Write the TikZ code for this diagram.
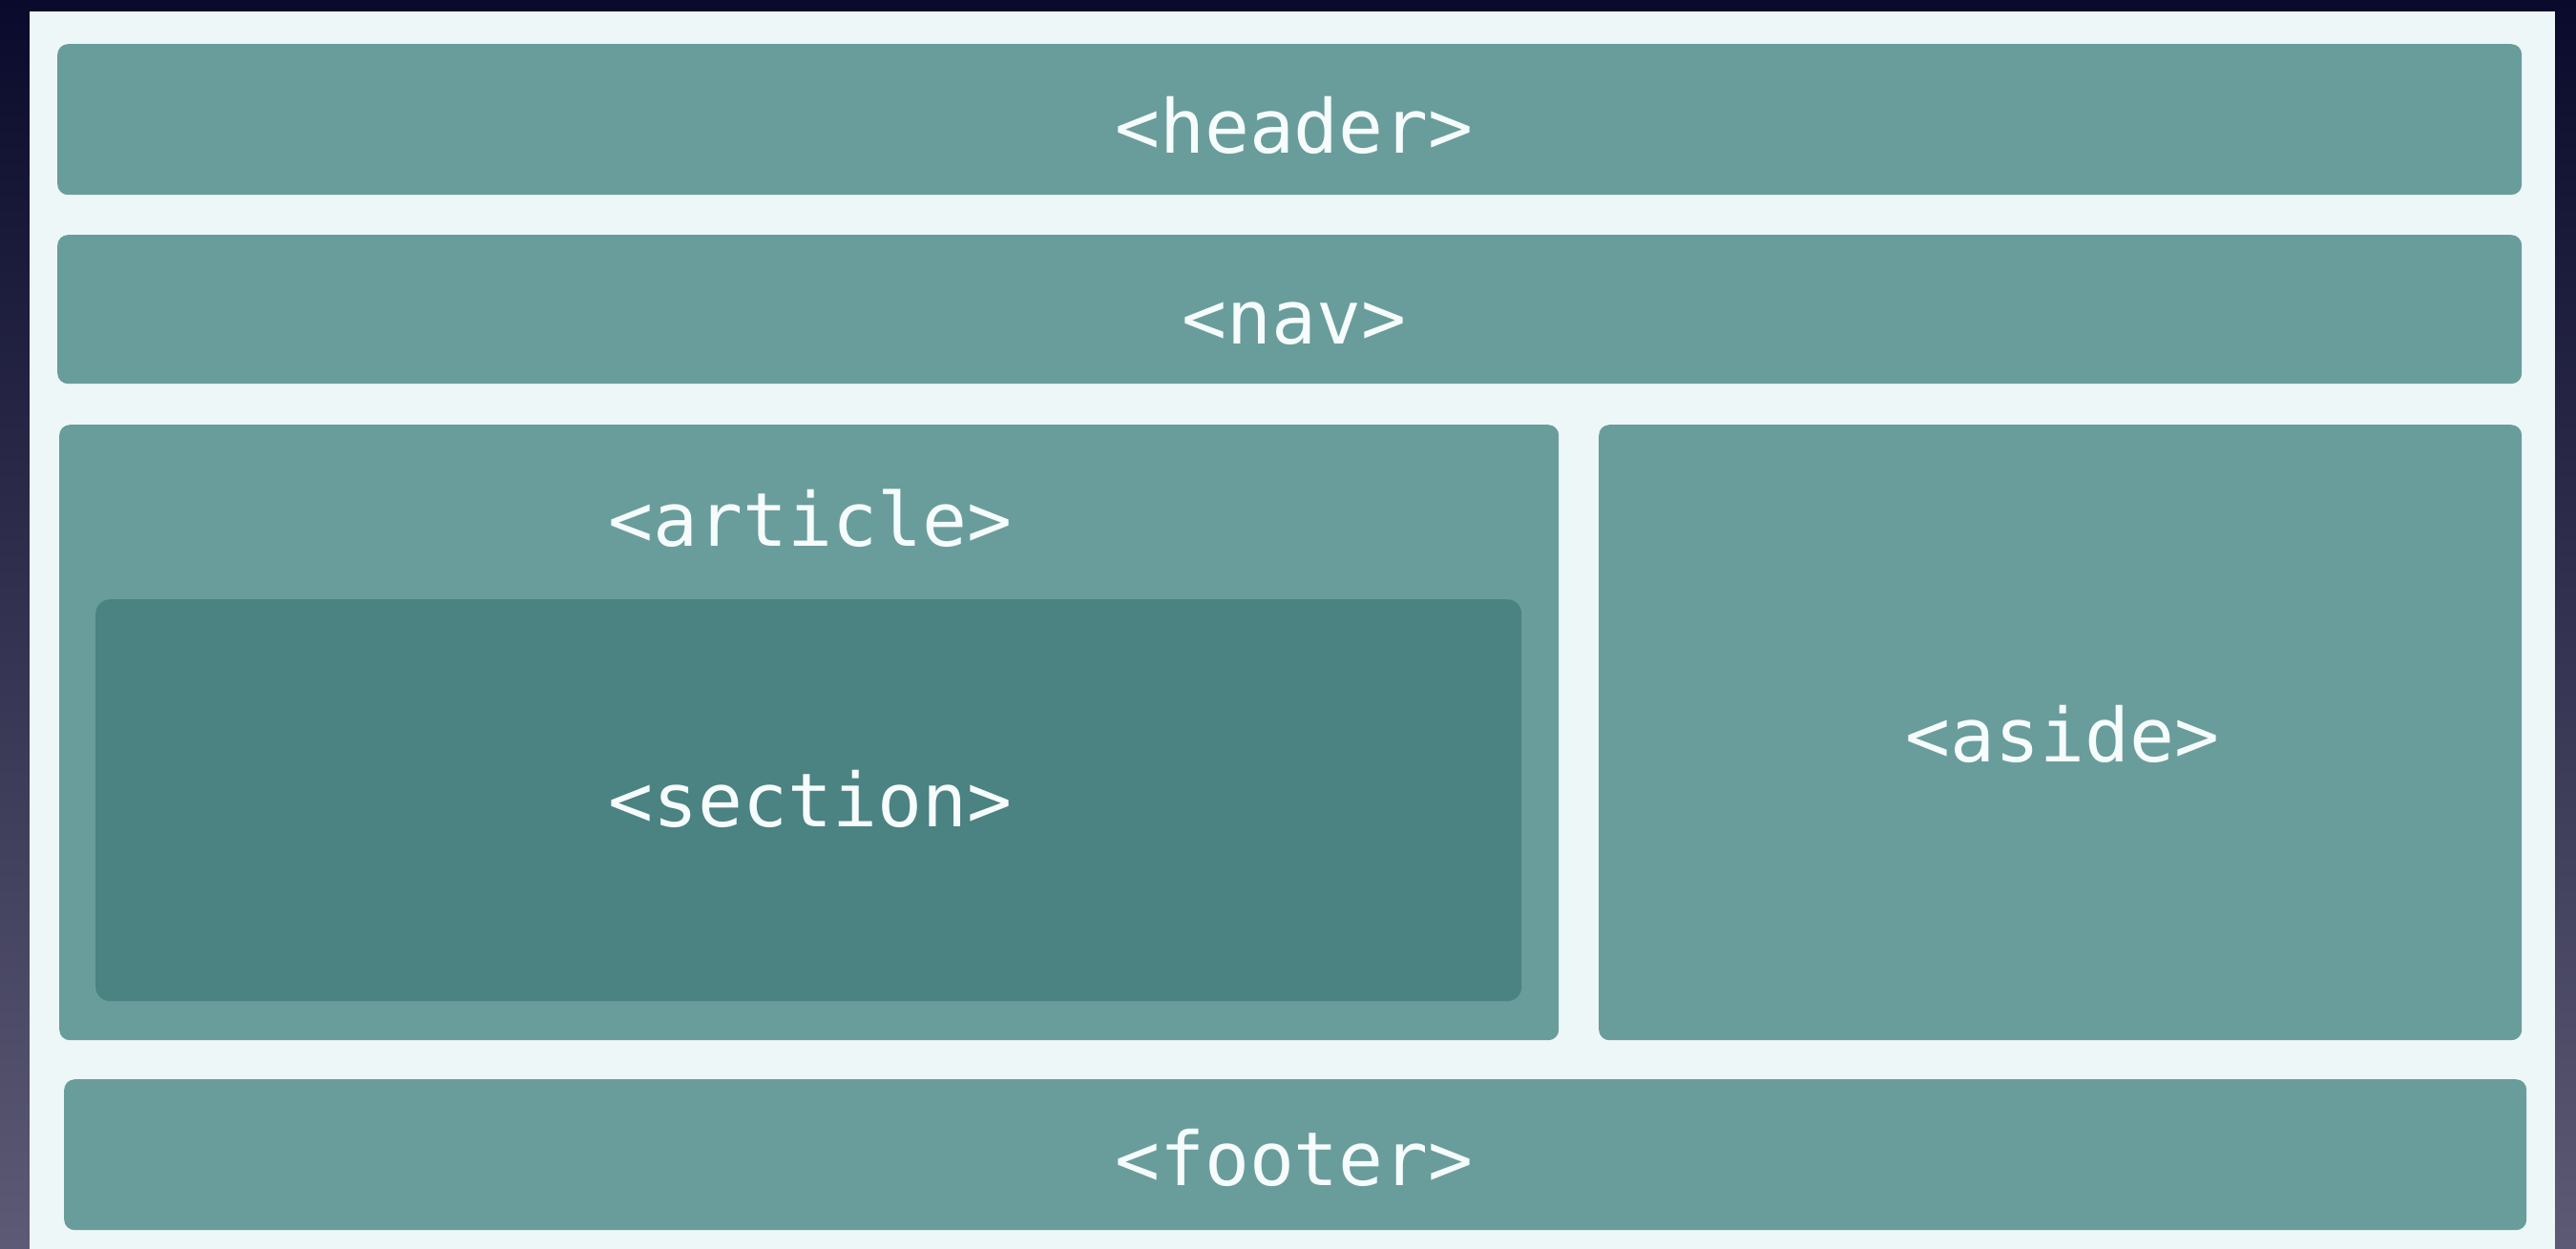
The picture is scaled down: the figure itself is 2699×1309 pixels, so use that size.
\documentclass[tikz,border=0pt]{standalone}
\usepackage{fontspec}
\newfontfamily\tagfont{DejaVu Sans Mono}
\definecolor{bgtop}{HTML}{0A0A2C}
\definecolor{bgbot}{HTML}{5C5A74}
\definecolor{panel}{HTML}{EEF7F7}
\definecolor{tealbox}{HTML}{699D9B}
\definecolor{tealdark}{HTML}{4B8282}
\definecolor{tagtext}{HTML}{F6FBFB}
\tikzset{
  box/.style={fill=tealbox, draw=none, rounded corners=11pt, inner sep=0pt, anchor=north west},
  innerbox/.style={fill=tealdark, draw=none, rounded corners=15pt, inner sep=0pt, anchor=north west},
  tag/.style={text=tagtext, font=\tagfont\fontsize{78}{90}\selectfont, anchor=base, inner sep=0pt}
}
\begin{document}
\begin{tikzpicture}[x=1pt,y=-1pt]
\useasboundingbox (0,0) rectangle (2699,1309);
\shade[top color=bgtop, bottom color=bgbot] (0,0) rectangle (2699,1309);
\fill[panel] (31,12) rectangle (2677,1309);
% boxes
\node[box, minimum width=2582pt, minimum height=158pt] (header) at (60,46) {};
\node[box, minimum width=2582pt, minimum height=156pt] (nav) at (60,246) {};
\node[box, minimum width=1571pt, minimum height=645pt] (article) at (62,445) {};
\node[innerbox, minimum width=1494pt, minimum height=421pt] (section) at (100,628) {};
\node[box, minimum width=967pt, minimum height=645pt] (aside) at (1675,445) {};
\node[box, minimum width=2580pt, minimum height=158pt] (footer) at (67,1131) {};
% labels
\node[tag] (headertag) at (1356,160) {<header>};
\node[tag] (navtag) at (1356,360) {<nav>};
\node[tag] (articletag) at (849,572) {<article>};
\node[tag] (sectiontag) at (849,866) {<section>};
\node[tag] (asidetag) at (2161,798) {<aside>};
\node[tag] (footertag) at (1356,1242) {<footer>};
\end{tikzpicture}
\end{document}
